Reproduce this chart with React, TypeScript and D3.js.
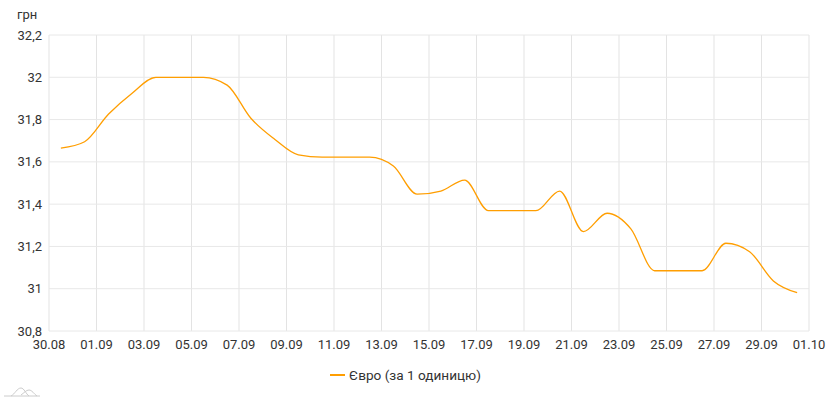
import React, { useEffect, useRef } from 'react';
import * as d3 from 'd3';

// daily EUR rate, 30.08 – 30.09
const days = [
  '2019-08-30', '2019-08-31', '2019-09-01', '2019-09-02', '2019-09-03', '2019-09-04',
  '2019-09-05', '2019-09-06', '2019-09-07', '2019-09-08', '2019-09-09', '2019-09-10',
  '2019-09-11', '2019-09-12', '2019-09-13', '2019-09-14', '2019-09-15', '2019-09-16',
  '2019-09-17', '2019-09-18', '2019-09-19', '2019-09-20', '2019-09-21', '2019-09-22',
  '2019-09-23', '2019-09-24', '2019-09-25', '2019-09-26', '2019-09-27', '2019-09-28',
  '2019-09-29', '2019-09-30'
];
const euro = [
  31.665, 31.695, 31.825, 31.925, 32.0, 32.0, 32.0, 31.963, 31.806, 31.707, 31.633, 31.622,
  31.622, 31.622, 31.58, 31.447, 31.462, 31.514, 31.369, 31.369, 31.369, 31.462, 31.27, 31.357,
  31.283, 31.085, 31.085, 31.085, 31.215, 31.175, 31.037, 30.981
];
const yTicks = [30.8, 31, 31.2, 31.4, 31.6, 31.8, 32, 32.2];
const seriesName = 'Євро (за 1 одиницю)';
const unitLabel = 'грн';

const W = 829;
const H = 400;
const margin = { top: 35, right: 20, bottom: 69, left: 49 };
const font = 'Roboto, "Noto Sans", sans-serif';

export default function App() {
  const ref = useRef<SVGSVGElement>(null);

  useEffect(() => {
    if (!ref.current) return;
    const svg = d3.select(ref.current);
    svg.selectAll('*').remove();

    const parse = d3.timeParse('%Y-%m-%d');
    const data = days.map((d, i) => {
      const t = parse(d) as Date;
      t.setHours(12);
      return { date: t, value: euro[i] };
    });

    const x = d3.scaleTime()
      .domain([new Date(2019, 7, 30), new Date(2019, 9, 1)])
      .range([margin.left, W - margin.right]);
    const y = d3.scaleLinear()
      .domain([30.8, 32.2])
      .range([H - margin.bottom, margin.top]);

    const xTicks = d3.timeDay.range(new Date(2019, 7, 30), new Date(2019, 9, 2), 2);
    const fmtX = d3.timeFormat('%d.%m');
    const fmtY = (v: number) => d3.format('~g')(+v.toFixed(1)).replace('.', ',');

    // grid
    svg.append('g')
      .selectAll('line')
      .data(xTicks)
      .join('line')
      .attr('x1', d => x(d)).attr('x2', d => x(d))
      .attr('y1', margin.top).attr('y2', H - margin.bottom)
      .attr('stroke', '#e3e3e3');
    svg.append('g')
      .selectAll('line')
      .data(yTicks)
      .join('line')
      .attr('x1', margin.left).attr('x2', W - margin.right)
      .attr('y1', d => y(d)).attr('y2', d => y(d))
      .attr('stroke', '#e8e8e8');

    // axis labels
    svg.append('g')
      .selectAll('text')
      .data(yTicks)
      .join('text')
      .attr('x', 42)
      .attr('y', d => y(d))
      .attr('dy', '0.35em')
      .attr('text-anchor', 'end')
      .attr('font-family', font)
      .attr('font-size', 13)
      .attr('fill', '#333')
      .text(d => fmtY(d));
    svg.append('g')
      .selectAll('text')
      .data(xTicks)
      .join('text')
      .attr('x', d => x(d))
      .attr('y', H - margin.bottom + 18)
      .attr('text-anchor', 'middle')
      .attr('font-family', font)
      .attr('font-size', 13)
      .attr('fill', '#333')
      .text(d => fmtX(d));

    svg.append('text')
      .attr('x', 17).attr('y', 19)
      .attr('font-family', font).attr('font-size', 13).attr('fill', '#333')
      .text(unitLabel);

    // series
    const line = d3.line<{ date: Date; value: number }>()
      .x(d => x(d.date))
      .y(d => y(d.value))
      .curve(d3.curveMonotoneX);
    svg.append('path')
      .datum(data)
      .attr('d', line)
      .attr('fill', 'none')
      .attr('stroke', '#ff9e01')
      .attr('stroke-width', 1.3);

    // legend
    const lg = svg.append('g').attr('transform', 'translate(330,375)');
    lg.append('line').attr('x1', 0).attr('x2', 15).attr('stroke', '#ff9e01').attr('stroke-width', 2);
    lg.append('text')
      .attr('x', 19).attr('dy', '0.35em')
      .attr('font-family', font).attr('font-size', 13.6).attr('fill', '#333')
      .text(seriesName);

    // small logo
    const logo = svg.append('g').attr('transform', 'translate(4,388)').attr('fill', 'none').attr('stroke', '#ccc').attr('stroke-width', 1);
    logo.append('path').attr('d', 'M0,8 L36,8');
    logo.append('path').attr('d', 'M7,8 C11,6 13,0 17,0 C20,0 22,6 25,8');
    logo.append('path').attr('d', 'M17,7 C20,5 22,2 25,2 C28,2 30,6 33,8');
  }, []);

  return (
    <svg
      ref={ref}
      width={W}
      height={H}
      style={{ position: 'absolute', left: 0, top: 0, background: '#fff' }}
    />
  );
}
